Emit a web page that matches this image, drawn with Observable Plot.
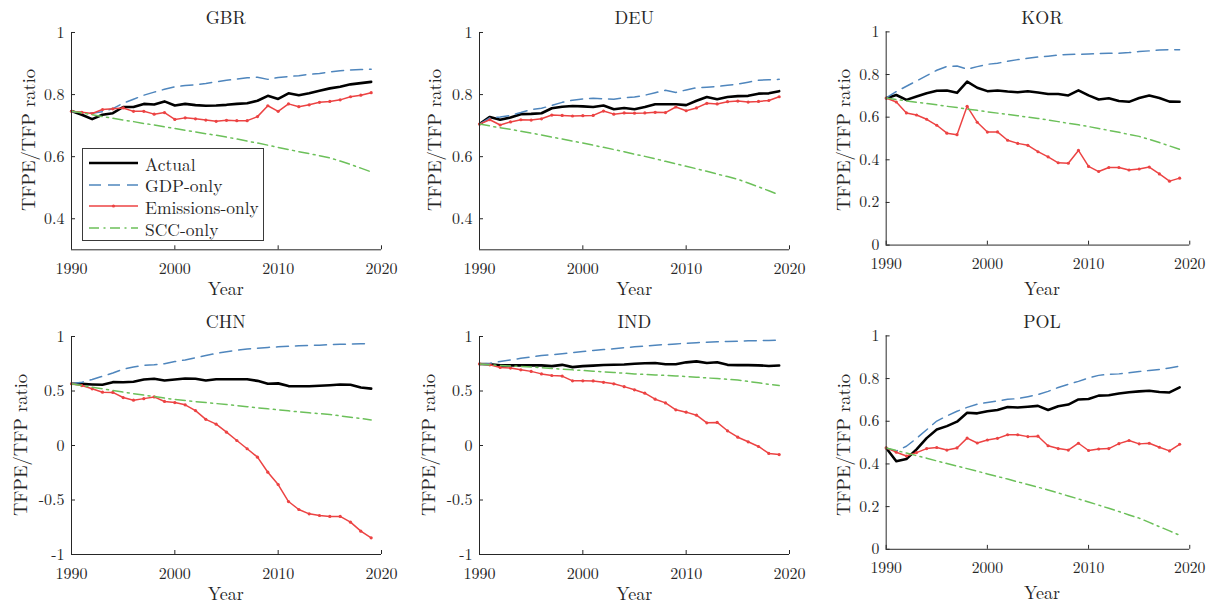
<!DOCTYPE html>
<html><head><meta charset="utf-8">
<script src="https://cdn.jsdelivr.net/npm/d3@7"></script>
<script src="https://cdn.jsdelivr.net/npm/@observablehq/plot@0.6"></script>
<style>
body{margin:0;background:#fff;}
#root{position:relative;width:1219px;height:603px;overflow:hidden;font-family:"Latin Modern Roman","Liberation Serif",serif;color:#262626;background:#fff;}
.lbl{position:absolute;white-space:nowrap;transform:translate(-50%,-50%);line-height:1;}
.plotwrap{position:absolute;}
#legend{position:absolute;border:1px solid #3a3a3a;background:#fff;box-sizing:border-box;}
.lrow{position:absolute;left:0;height:20px;display:flex;align-items:center;font-size:17.5px;white-space:nowrap;}
</style></head><body><div id="root"></div><script>
// ---------- data ----------
const years = d3.range(1990, 2020);
const seriesNames = ["Actual", "GDP-only", "Emissions-only", "SCC-only"];
const xTicks = [1990, 2000, 2010, 2020];

const gbrActual = [.747,.735,.721,.735,.740,.760,.760,.770,.768,.778,.765,.770,.766,.764,.765,.767,.770,.772,.780,.796,.786,.804,.798,.804,.812,.820,.825,.833,.837,.841];
const gbrGdp    = [.745,.742,.740,.745,.755,.772,.785,.798,.808,.817,.825,.829,.832,.836,.841,.846,.850,.854,.856,.849,.855,.858,.861,.865,.868,.873,.877,.879,.881,.882];
const gbrEmis   = [.746,.743,.739,.752,.754,.757,.746,.746,.737,.742,.720,.725,.722,.718,.714,.717,.716,.716,.729,.764,.746,.770,.761,.767,.775,.778,.783,.793,.798,.806];
const gbrScc    = [.746,.741,.735,.729,.724,.718,.713,.707,.702,.696,.691,.685,.680,.674,.669,.663,.657,.650,.644,.637,.630,.623,.616,.610,.603,.596,.586,.575,.563,.551];

const deuActual = [.705,.728,.719,.726,.737,.738,.740,.756,.761,.763,.762,.760,.765,.753,.757,.753,.760,.769,.769,.769,.766,.780,.792,.785,.792,.795,.796,.803,.804,.811];
const deuGdp    = [.705,.725,.728,.733,.742,.752,.756,.765,.775,.782,.786,.788,.786,.785,.790,.792,.798,.806,.814,.807,.815,.822,.824,.826,.830,.834,.840,.846,.848,.849];
const deuEmis   = [.705,.719,.702,.712,.719,.718,.722,.734,.733,.731,.732,.733,.747,.737,.741,.740,.741,.743,.742,.760,.748,.757,.772,.770,.777,.779,.776,.778,.781,.793];
const deuScc    = [.705,.699,.693,.688,.682,.676,.670,.663,.657,.650,.644,.637,.630,.623,.616,.608,.601,.593,.585,.577,.569,.561,.553,.544,.536,.527,.515,.503,.490,.477];

const korActual = [.689,.704,.681,.697,.712,.724,.725,.714,.767,.738,.722,.725,.720,.717,.722,.716,.709,.709,.702,.726,.702,.683,.689,.676,.672,.690,.702,.690,.673,.672];
const korGdp    = [.690,.720,.745,.770,.795,.820,.838,.840,.825,.837,.848,.853,.862,.870,.876,.882,.886,.891,.894,.895,.896,.898,.900,.900,.903,.908,.911,.915,.916,.916];
const korEmis   = [.690,.671,.620,.610,.590,.562,.525,.518,.651,.576,.530,.531,.492,.477,.468,.438,.414,.386,.384,.444,.369,.345,.364,.364,.352,.357,.366,.334,.300,.314];
const korScc    = [.690,.683,.676,.670,.664,.658,.651,.645,.638,.632,.625,.619,.613,.607,.600,.594,.587,.579,.571,.564,.556,.547,.538,.529,.519,.510,.496,.481,.465,.449];

const chnActual = [.566,.565,.560,.557,.581,.580,.585,.605,.612,.597,.605,.615,.613,.597,.608,.608,.608,.608,.593,.567,.570,.545,.543,.543,.548,.553,.560,.558,.532,.522];
const chnGdp    = [.566,.580,.605,.635,.665,.700,.720,.735,.740,.750,.770,.785,.805,.825,.845,.860,.875,.885,.893,.900,.905,.910,.915,.918,.920,.925,.928,.930,.933,.935];
const chnEmis   = [.566,.550,.520,.489,.487,.440,.416,.430,.446,.404,.394,.373,.320,.240,.196,.122,.046,-.030,-.107,-.245,-.358,-.514,-.587,-.627,-.642,-.651,-.651,-.703,-.786,-.847];
const chnScc    = [.566,.550,.535,.520,.505,.490,.476,.462,.449,.435,.422,.413,.403,.394,.385,.376,.366,.356,.346,.337,.327,.318,.309,.300,.292,.284,.272,.260,.248,.235];

const indActual = [.748,.745,.735,.735,.735,.735,.735,.728,.740,.719,.728,.733,.738,.741,.743,.750,.755,.757,.745,.745,.763,.772,.757,.764,.740,.737,.737,.735,.730,.734];
const indGdp    = [.748,.755,.770,.785,.800,.812,.825,.833,.842,.852,.862,.872,.880,.888,.897,.905,.912,.920,.926,.932,.938,.943,.947,.951,.954,.957,.960,.962,.964,.965];
const indEmis   = [.748,.740,.716,.710,.694,.680,.657,.642,.637,.593,.593,.592,.580,.566,.540,.511,.480,.425,.391,.327,.306,.278,.208,.212,.135,.076,.034,-.009,-.073,-.083];
const indScc    = [.748,.740,.735,.730,.725,.720,.714,.707,.700,.694,.688,.682,.676,.670,.663,.657,.652,.647,.643,.638,.633,.627,.620,.614,.607,.600,.588,.575,.562,.550];

const polActual = [.475,.413,.423,.468,.521,.561,.577,.598,.640,.637,.647,.653,.667,.664,.668,.672,.653,.670,.678,.702,.704,.720,.722,.730,.736,.740,.743,.737,.735,.759];
const polGdp    = [.475,.460,.483,.520,.560,.601,.625,.647,.665,.680,.688,.695,.703,.706,.715,.725,.740,.758,.773,.787,.803,.815,.820,.822,.827,.833,.838,.843,.850,.858];
const polEmis   = [.475,.455,.437,.453,.472,.477,.465,.475,.521,.498,.512,.520,.537,.537,.528,.530,.485,.472,.465,.497,.463,.470,.472,.495,.510,.494,.497,.478,.461,.492];
const polScc    = [.475,.463,.451,.439,.427,.414,.402,.390,.378,.366,.353,.341,.329,.316,.304,.291,.278,.264,.250,.236,.222,.207,.192,.177,.161,.146,.126,.106,.086,.066];

const yDomains = {GBR:[0.3,1], DEU:[0.3,1], KOR:[0,1], CHN:[-1,1], IND:[-1,1], POL:[0,1]};
const yTicks = {GBR:[0.4,0.6,0.8,1], DEU:[0.4,0.6,0.8,1], KOR:[0,0.2,0.4,0.6,0.8,1],
                CHN:[-1,-0.5,0,0.5,1], IND:[-1,-0.5,0,0.5,1], POL:[0,0.2,0.4,0.6,0.8,1]};
const countryData = {
  GBR:[gbrActual,gbrGdp,gbrEmis,gbrScc], DEU:[deuActual,deuGdp,deuEmis,deuScc], KOR:[korActual,korGdp,korEmis,korScc],
  CHN:[chnActual,chnGdp,chnEmis,chnScc], IND:[indActual,indGdp,indEmis,indScc], POL:[polActual,polGdp,polEmis,polScc]
};

// ---------- layout & styles ----------
const layout = [
  {c:"GBR", left:70.7, right:380.7, top:31.7, bottom:249, ylabOff:44},
  {c:"DEU", left:479.3, right:789.3, top:31.7, bottom:249, ylabOff:46},
  {c:"KOR", left:887.3, right:1196.7, top:31.7, bottom:249, ylabOff:45},
  {c:"CHN", left:70.7, right:380.7, top:336, bottom:554, ylabOff:52},
  {c:"IND", left:479.3, right:789.3, top:336, bottom:554, ylabOff:52},
  {c:"POL", left:887.3, right:1196.7, top:336, bottom:553.5, ylabOff:45}
];
const sty = {
  "Actual":        {stroke:"#000000", strokeWidth:2.6},
  "GDP-only":      {stroke:"#4f86bd", strokeWidth:1.5, strokeDasharray:"12,7"},
  "Emissions-only":{stroke:"#ec4343", strokeWidth:1.5},
  "SCC-only":      {stroke:"#6cc05a", strokeWidth:1.5, strokeDasharray:"10,4.5,2,4.5"}
};
const axisColor = "#262626";
const FONT = '"Latin Modern Roman","Liberation Serif",serif';
const root = document.getElementById("root");

function addLabel(text, x, y, size, rotate) {
  const d = document.createElement("div");
  d.className = "lbl";
  d.textContent = text;
  d.style.left = x + "px";
  d.style.top = y + "px";
  d.style.fontSize = size + "px";
  if (rotate) d.style.transform = "translate(-50%,-50%) rotate(-90deg)";
  root.appendChild(d);
}

for (const g of layout) {
  const ML = 70, MT = 32, MR = 30, MB = 32;
  const w = g.right - g.left, h = g.bottom - g.top;
  const rows = [];
  countryData[g.c].forEach((arr, si) => arr.forEach((v, i) => rows.push({year: years[i], value: v, series: seriesNames[si]})));
  const sel = s => rows.filter(d => d.series === s);
  const plot = Plot.plot({
    width: w + ML + MR, height: h + MT + MB,
    marginLeft: ML, marginRight: MR, marginTop: MT, marginBottom: MB,
    style: {background: "transparent", overflow: "visible", fontFamily: FONT, fontSize: "16px", color: axisColor},
    x: {domain: [1990, 2020], axis: null},
    y: {domain: yDomains[g.c], axis: null},
    marks: [
      Plot.line(sel("Actual"), {x: "year", y: "value", ...sty["Actual"]}),
      Plot.line(sel("GDP-only"), {x: "year", y: "value", ...sty["GDP-only"]}),
      Plot.line(sel("Emissions-only"), {x: "year", y: "value", ...sty["Emissions-only"]}),
      Plot.dot(sel("Emissions-only"), {x: "year", y: "value", r: 1.6, fill: sty["Emissions-only"].stroke, stroke: null}),
      Plot.line(sel("SCC-only"), {x: "year", y: "value", ...sty["SCC-only"]}),
      Plot.ruleY([yDomains[g.c][0]], {stroke: axisColor, strokeWidth: 1}),
      Plot.ruleX([1990], {stroke: axisColor, strokeWidth: 1}),
      Plot.axisX({ticks: xTicks, tickSize: -4, tickPadding: 17, tickFormat: d => String(d), label: null, fontSize: 16}),
      Plot.axisY({ticks: yTicks[g.c], tickSize: -4, tickPadding: 11, tickFormat: d => String(d), label: null, fontSize: 16})
    ]
  });
  const wrap = document.createElement("div");
  wrap.className = "plotwrap";
  wrap.style.left = (g.left - ML) + "px";
  wrap.style.top = (g.top - MT) + "px";
  wrap.appendChild(plot);
  root.appendChild(wrap);
  const cx = (g.left + g.right) / 2;
  addLabel(g.c, cx, g.top - 15, 18);
  addLabel("Year", cx, g.bottom + 38.5, 18);
  addLabel("TFPE/TFP ratio", g.left - g.ylabOff, (g.top + g.bottom) / 2, 18.5, true);
}

// ---------- legend (inside GBR panel) ----------
const legend = document.createElement("div");
legend.id = "legend";
legend.style.left = "82px"; legend.style.top = "148px";
legend.style.width = "182px"; legend.style.height = "93px";
root.appendChild(legend);
seriesNames.forEach((name, i) => {
  const row = document.createElement("div");
  row.className = "lrow";
  row.style.top = (4 + i * 21.7) + "px";
  const s = d3.create("svg").attr("width", 62).attr("height", 20);
  const st = sty[name];
  s.append("line").attr("x1", 6).attr("x2", 55).attr("y1", 10).attr("y2", 10)
    .attr("stroke", st.stroke).attr("stroke-width", st.strokeWidth)
    .attr("stroke-dasharray", st.strokeDasharray || null);
  if (name === "Emissions-only") s.append("circle").attr("cx", 30.5).attr("cy", 10).attr("r", 1.6).attr("fill", st.stroke);
  row.appendChild(s.node());
  const t = document.createElement("span");
  t.textContent = name;
  row.appendChild(t);
  legend.appendChild(row);
});
</script></body></html>
